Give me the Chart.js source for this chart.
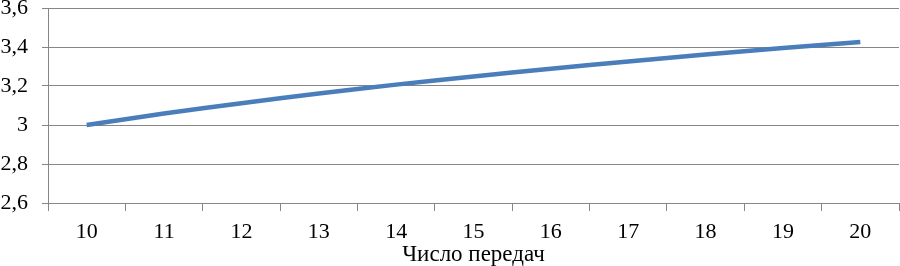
<!DOCTYPE html>
<html>
<head>
<meta charset="utf-8">
<script src="https://cdn.jsdelivr.net/npm/chart.js@4"></script>
<style>
  html, body { margin: 0; padding: 0; background: #fff; }
  #wrap { width: 900px; height: 266px; }
</style>
</head>
<body>
<div id="wrap"><canvas id="myChart"></canvas></div>
<script>
// Categories (number of gears) and values
var categories = ['10', '11', '12', '13', '14', '15', '16', '17', '18', '19', '20'];
var values = [3.00, 3.059, 3.112, 3.161, 3.207, 3.249, 3.289, 3.326, 3.361, 3.395, 3.426];
var yMin = 2.6, yMax = 3.6, yStep = 0.2;
var xTitle = 'Число передач';

var gridColor = '#868686';
var serif = 'Liberation Serif, Times New Roman, serif';

var ctx = document.getElementById('myChart').getContext('2d');

var myChart = new Chart(ctx, {
    type: 'line',
    data: {
        labels: categories,
        datasets: [{
            data: values,
            borderColor: '#4a7ebb',
            borderWidth: 4.5,
            pointRadius: 0,
            tension: 0.3,
            fill: false
        }]
    },
    options: {
        responsive: true,
        maintainAspectRatio: false,
        animation: false,
        layout: { padding: { top: 8, right: 1, left: 0, bottom: 0 } },
        plugins: { legend: { display: false }, tooltip: { enabled: false } },
        scales: {
            x: {
                offset: true,
                grid: {
                    offset: true,
                    drawOnChartArea: false,
                    drawTicks: true,
                    tickLength: 8,
                    color: gridColor
                },
                border: { display: true, color: gridColor },
                ticks: {
                    color: '#000',
                    padding: 8,
                    maxRotation: 0,
                    font: { family: serif, size: 22 }
                },
                title: {
                    display: true,
                    text: xTitle,
                    color: '#000',
                    padding: { top: 0, bottom: -3 },
                    font: { family: serif, size: 23 }
                },
                afterFit: function (scale) {
                    scale.height = 63;
                    scale.paddingLeft = 0;
                    scale.paddingRight = 0;
                }
            },
            y: {
                min: yMin,
                max: yMax,
                grid: {
                    color: gridColor,
                    tickLength: 6
                },
                border: { display: true, color: gridColor },
                ticks: {
                    stepSize: yStep,
                    color: '#000',
                    padding: 14,
                    font: { family: serif, size: 22 },
                    callback: function (v) {
                        return (Math.round(v * 10) / 10).toString().replace('.', ',');
                    }
                },
                afterFit: function (scale) {
                    scale.width = 48;
                    scale.paddingTop = 0;
                    scale.paddingBottom = 0;
                }
            }
        }
    }
});
</script>
</body>
</html>
